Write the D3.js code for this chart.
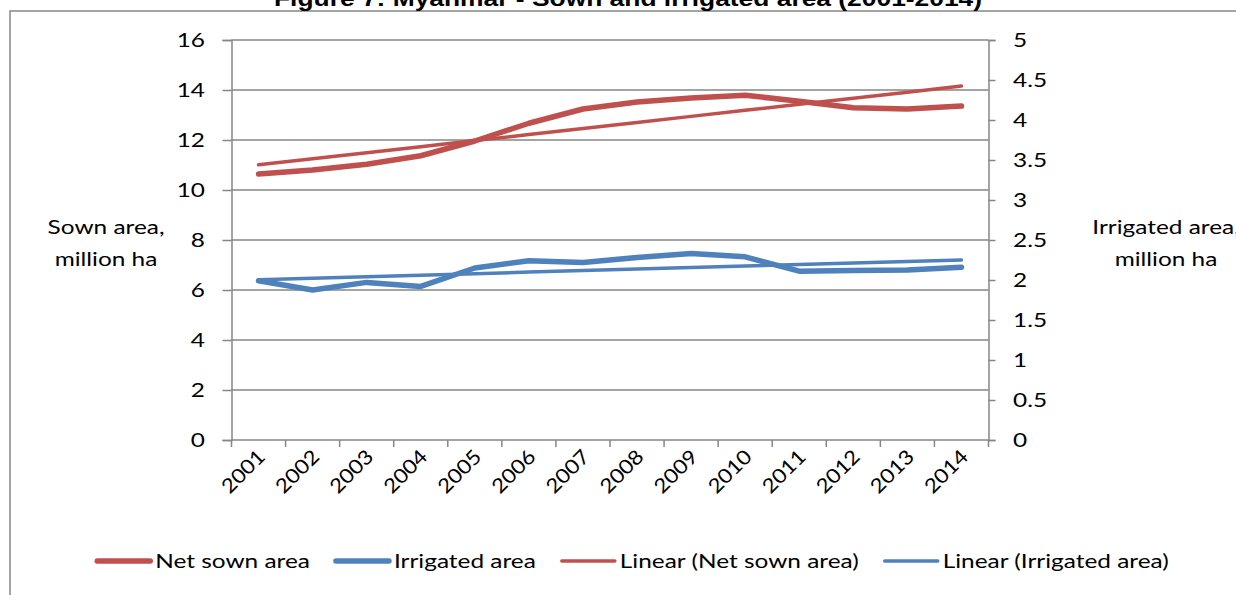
<!DOCTYPE html>
<html>
<head>
<meta charset="utf-8">
<script src="https://cdn.jsdelivr.net/npm/d3@7"></script>
<style>
  html, body { margin: 0; padding: 0; background: #fff; }
  svg { display: block; }
  text { font-family: Lato, "Open Sans", sans-serif; fill: #000; }
</style>
</head>
<body>
<svg id="chart" width="1236" height="595"></svg>
<script>
const years = ["2001","2002","2003","2004","2005","2006","2007","2008","2009","2010","2011","2012","2013","2014"];
const netSownArea = [10.64, 10.80, 11.03, 11.37, 11.96, 12.67, 13.24, 13.52, 13.68, 13.79, 13.55, 13.29, 13.24, 13.36];
const irrigatedArea = [1.99, 1.875, 1.97, 1.92, 2.15, 2.24, 2.22, 2.28, 2.33, 2.29, 2.11, 2.12, 2.125, 2.16];
const leftTicks = [0, 2, 4, 6, 8, 10, 12, 14, 16];
const rightTicks = [0, 0.5, 1, 1.5, 2, 2.5, 3, 3.5, 4, 4.5, 5];
const titleText = "Figure 7: Myanmar - Sown and irrigated area (2001-2014)";
const seriesNames = ["Net sown area", "Irrigated area", "Linear (Net sown area)", "Linear (Irrigated area)"];

const RED = "#C0504D", BLUE = "#4F81BD", GRID = "#868686";
const SX = 1.22; // horizontal stretch of the reference's text
const FS = "20px";
const svg = d3.select("#chart");

// helper: text with horizontal stretch (optionally rotated first, stretched along baseline)
function stext(parent, x, y, str, opts = {}) {
  const g = parent.append("g").attr("transform", `translate(${x},${y})` + (opts.rot ? ` rotate(${opts.rot})` : "") + ` scale(${opts.sx || SX},1)`);
  const t = g.append("text").attr("x", 0).attr("y", 0)
    .attr("text-anchor", opts.anchor || "start")
    .attr("dy", opts.dy || null)
    .style("font-size", opts.size || FS).text(str);
  if (opts.family) t.style("font-family", opts.family);
  if (opts.weight) t.style("font-weight", opts.weight);
  return t;
}

// chart frame
svg.append("rect").attr("x", 10).attr("y", 11).attr("width", 1300).attr("height", 700)
  .attr("fill", "none").attr("stroke", GRID).attr("stroke-width", 1.5);

// title (partly above the frame, as in the reference)
stext(svg, 628, 6, titleText, { anchor: "middle", size: "22px", sx: 1.2,
  family: "'Liberation Sans', Arial, sans-serif", weight: "bold" });

const L = 231.5, R = 988.5, T = 40, B = 440;
const x = d3.scaleBand().domain(years).range([L, R]);
const yL = d3.scaleLinear().domain([0, 16]).range([B, T]);
const yR = d3.scaleLinear().domain([0, 5]).range([B, T]);

// gridlines
svg.append("g").selectAll("line").data(leftTicks.filter(d => d > 0)).join("line")
  .attr("x1", L).attr("x2", R).attr("y1", d => yL(d)).attr("y2", d => yL(d))
  .attr("stroke", GRID).attr("stroke-width", 1.5);

// left axis
const gL = svg.append("g").attr("transform", `translate(${L},0)`)
  .call(d3.axisLeft(yL).tickValues(leftTicks).tickSize(9).tickFormat(""));
// right axis
const gR = svg.append("g").attr("transform", `translate(${R},0)`)
  .call(d3.axisRight(yR).tickValues(rightTicks).tickSize(7).tickFormat(""));
[gL, gR].forEach(g => {
  g.select(".domain").attr("stroke", GRID).attr("stroke-width", 1.5);
  g.selectAll(".tick line").attr("stroke", GRID).attr("stroke-width", 1.5);
});
leftTicks.forEach(v => stext(svg, 205, yL(v), d3.format("d")(v), { anchor: "end", dy: "0.35em" }));
rightTicks.forEach(v => stext(svg, 1013, yR(v), String(v), { anchor: "start", dy: "0.35em" }));

// bottom axis
const boundaries = years.map(d => x(d)).concat([R]);
const gB = svg.append("g");
gB.append("line").attr("x1", L).attr("x2", R).attr("y1", B).attr("y2", B).attr("stroke", GRID).attr("stroke-width", 1.5);
gB.selectAll("line.tk").data(boundaries).join("line").attr("class", "tk")
  .attr("x1", d => d).attr("x2", d => d).attr("y1", B).attr("y2", B + 7)
  .attr("stroke", GRID).attr("stroke-width", 1.5);
years.forEach(d => stext(gB, x(d) + x.bandwidth() / 2 + 3, B + 13, d, { anchor: "end", dy: "0.35em", rot: -45, sx: 1.12 }));

// axis titles
stext(svg, 106, 234, "Sown area,", { anchor: "middle" });
stext(svg, 106, 266, "million ha", { anchor: "middle" });
stext(svg, 1166, 234, "Irrigated area,", { anchor: "middle" });
stext(svg, 1166, 266, "million ha", { anchor: "middle" });

// linear trend (least squares, as Excel's trendline)
function trend(vals) {
  const n = vals.length, xs = d3.range(n);
  const mx = d3.mean(xs), my = d3.mean(vals);
  const b = d3.sum(xs, i => (i - mx) * (vals[i] - my)) / d3.sum(xs, i => (i - mx) ** 2);
  const a = my - b * mx;
  return xs.map(i => a + b * i);
}
const cx = d => x(d) + x.bandwidth() / 2;
const lineL = d3.line().x((d, i) => cx(years[i])).y(d => yL(d));
const lineR = d3.line().x((d, i) => cx(years[i])).y(d => yR(d));

const series = [
  { vals: netSownArea, gen: lineL, color: RED, w: 5.5 },
  { vals: trend(netSownArea), gen: lineL, color: RED, w: 3.5 },
  { vals: irrigatedArea, gen: lineR, color: BLUE, w: 5.5 },
  { vals: trend(irrigatedArea), gen: lineR, color: BLUE, w: 3.5 }
];
series.forEach(s => {
  svg.append("path").datum(s.vals).attr("d", s.gen).attr("fill", "none")
    .attr("stroke", s.color).attr("stroke-width", s.w)
    .attr("stroke-linecap", "round").attr("stroke-linejoin", "round");
});

// legend
const legendItems = [
  { name: seriesNames[0], color: RED, w: 5.5 },
  { name: seriesNames[1], color: BLUE, w: 5.5 },
  { name: seriesNames[2], color: RED, w: 3.5 },
  { name: seriesNames[3], color: BLUE, w: 3.5 }
];
const lg = svg.append("g");
let cursor = 0;
const ly = 561;
legendItems.forEach(it => {
  const g = lg.append("g").attr("transform", `translate(${cursor},0)`);
  g.append("line").attr("x1", 2).attr("x2", 55).attr("y1", ly).attr("y2", ly)
    .attr("stroke", it.color).attr("stroke-width", it.w).attr("stroke-linecap", "round");
  const t = stext(g, 60, ly, it.name, { dy: "0.35em" });
  const w = t.node().getComputedTextLength() * SX;
  cursor += 60 + w + 24;
});
const total = cursor - 24;
lg.attr("transform", `translate(${632 - total / 2},0)`);
</script>
</body>
</html>
